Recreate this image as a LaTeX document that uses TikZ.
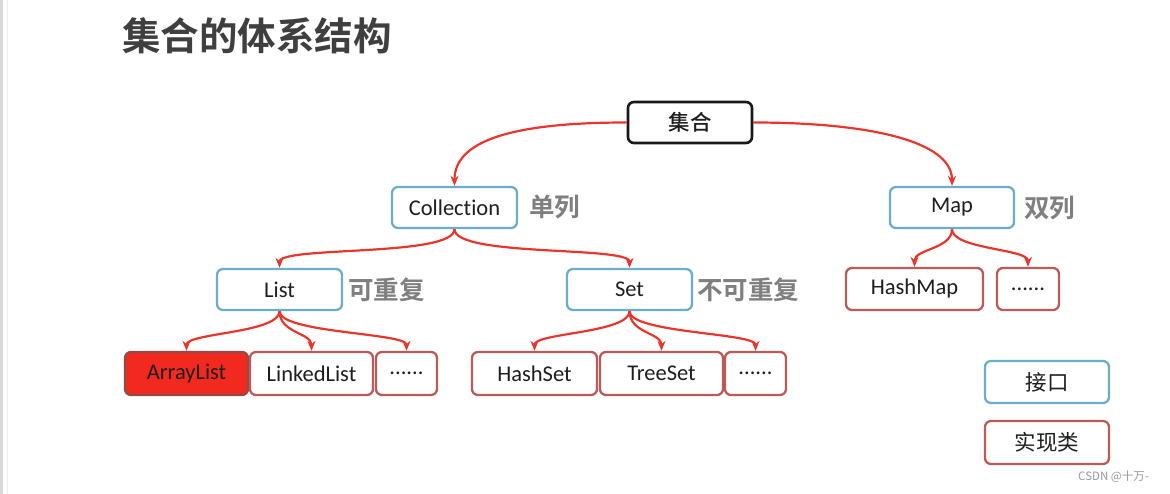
\documentclass[tikz,border=0pt]{standalone}
\usepackage{fontspec}
\setmainfont{Carlito}[Ligatures=NoCommon]
\newfontfamily\cjk{Noto Sans CJK SC}[BoldFont={Noto Sans CJK SC Bold}]
\newfontfamily\cjkm{Noto Sans CJK SC Medium}
\usetikzlibrary{arrows.meta}
\definecolor{arrred}{HTML}{E8362C}
\definecolor{ifblue}{HTML}{6AAFC5}
\definecolor{implred}{HTML}{BC5A58}
\definecolor{fillred}{HTML}{F2291E}
\definecolor{lblgrey}{HTML}{7F7F7F}
\definecolor{titlegrey}{HTML}{3F3F3F}
\definecolor{txt}{HTML}{1E1E1E}
\begin{document}
\begin{tikzpicture}[x=1pt,y=-1pt,
  box/.style={rectangle, rounded corners=6pt, line width=2.3pt, inner sep=0pt, text=txt, font=\fontsize{22.5}{26}\selectfont},
  ifbox/.style={box, draw=ifblue},
  imbox/.style={box, draw=implred},
  rootbox/.style={box, draw=black!90, line width=2.6pt},
  cjkbox/.style={font=\cjk\fontsize{21.5}{25}\selectfont},
  lbl/.style={anchor=west, inner sep=0pt, text=lblgrey, font=\cjk\bfseries\fontsize{25.5}{29}\selectfont},
  conn/.style={draw=arrred, line width=2.2pt, -{Stealth[length=10pt,width=8pt]}}
]
\useasboundingbox (0,0) rectangle (1170,494);
\fill[white] (0,0) rectangle (1170,494);
\fill[black!15] (0,0) rectangle (3,494);
\draw[black!7, line width=1pt] (7.5,0) -- (7.5,494);

\node[anchor=west, inner sep=0pt, text=titlegrey, font=\cjk\bfseries\fontsize{38.5}{42}\selectfont] (title) at (122,36) {集合的体系结构};

\node[rootbox, minimum width=124pt, minimum height=41pt, font=\cjkm\fontsize{21.5}{25}\selectfont] (root) at (690,122.5) {集合};

\node[ifbox, minimum width=125pt, minimum height=41pt] (col) at (454.5,207.5) {Collection};
\node[ifbox, minimum width=124pt, minimum height=41pt] (map) at (952,207.5) {Map};
\node[ifbox, minimum width=125pt, minimum height=41pt] (list) at (279.5,289.5) {List};
\node[ifbox, minimum width=125pt, minimum height=41pt] (set) at (629.5,289.5) {Set};

\node[lbl] (l1) at (529,207) {单列};
\node[lbl] (l2) at (1024,208) {双列};
\node[lbl] (l3) at (348,290) {可重复};
\node[lbl] (l4) at (697,290) {不可重复};

\node[imbox, fill=fillred, draw=implred!80!black, minimum width=123pt, minimum height=43pt] (al) at (186.5,373.5) {ArrayList};
\node[imbox, minimum width=123pt, minimum height=43pt] (ll) at (311.5,373.5) {LinkedList};
\node[imbox, minimum width=61pt, minimum height=43pt] (ld) at (406.5,373.5) {......};
\node[imbox, minimum width=125pt, minimum height=43pt] (hs) at (534.5,373.5) {HashSet};
\node[imbox, minimum width=123pt, minimum height=43pt] (ts) at (661.5,373.5) {TreeSet};
\node[imbox, minimum width=61pt, minimum height=43pt] (sd) at (755.5,373.5) {......};
\node[imbox, minimum width=137pt, minimum height=42pt] (hm) at (914.5,289) {HashMap};
\node[imbox, minimum width=62pt, minimum height=42pt] (md) at (1028,289) {......};

\node[ifbox, cjkbox, minimum width=124pt, minimum height=42pt] (legi) at (1047,382) {接口};
\node[imbox, cjkbox, minimum width=124pt, minimum height=43pt] (legc) at (1047,442.5) {实现类};

\node[anchor=west, inner sep=0pt, text=black!40, font=\cjk\fontsize{11.5}{13}\selectfont] (csdn) at (1078,477) {CSDN @十万-};

% connectors
\draw[conn] (root.west) .. controls +(-115,0) and +(0,-45) .. (col.north);
\draw[conn] (root.east) .. controls +(115,0) and +(0,-45) .. (map.north);

\draw[conn] (col.south) .. controls +(0,28) and +(0,-22) .. (list.north);
\draw[conn] (col.south) .. controls +(0,28) and +(0,-22) .. (set.north);

\draw[conn] (list.south) .. controls +(0,22) and +(0,-18) .. (al.north);
\draw[conn] (list.south) .. controls +(0,22) and +(0,-18) .. (ll.north);
\draw[conn] (list.south) .. controls +(0,22) and +(0,-18) .. (ld.north);

\draw[conn] (set.south) .. controls +(0,22) and +(0,-18) .. (hs.north);
\draw[conn] (set.south) .. controls +(0,22) and +(0,-18) .. (ts.north);
\draw[conn] (set.south) .. controls +(0,22) and +(0,-18) .. (sd.north);

\draw[conn] (map.south) .. controls +(0,20) and +(0,-18) .. (hm.north);
\draw[conn] (map.south) .. controls +(0,20) and +(0,-18) .. (md.north);
\end{tikzpicture}
\end{document}
